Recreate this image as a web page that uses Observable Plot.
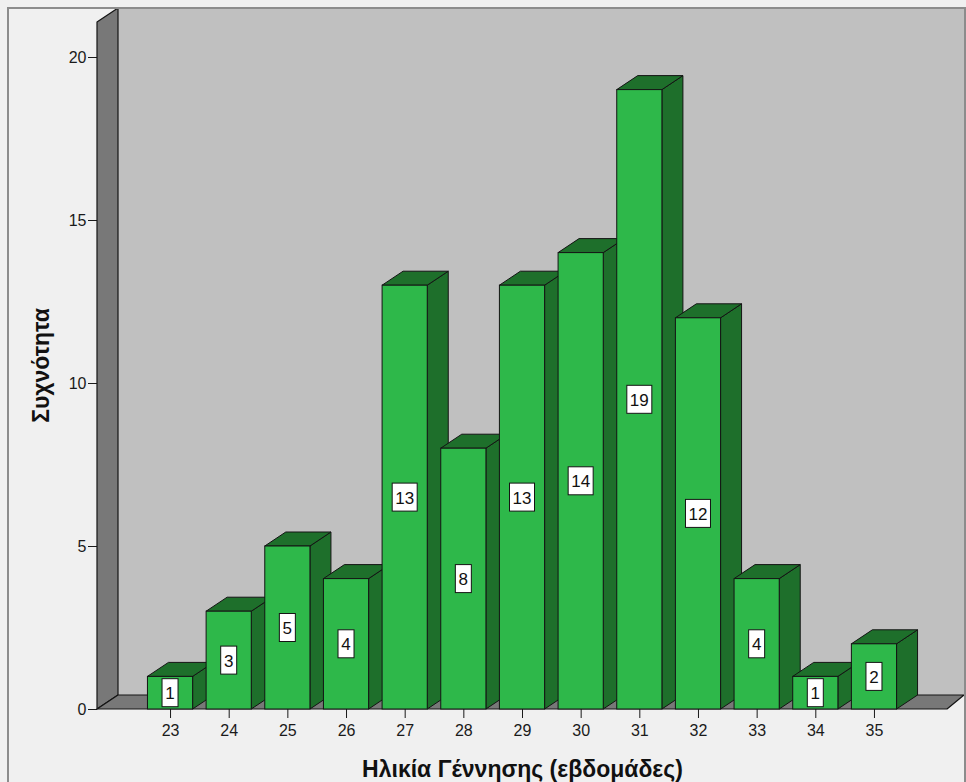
<!DOCTYPE html>
<html><head><meta charset="utf-8">
<script src="https://cdn.jsdelivr.net/npm/d3@7"></script>
<script src="https://cdn.jsdelivr.net/npm/@observablehq/plot@0.6"></script>
<style>html,body{margin:0;padding:0;background:#f0f0f0;overflow:hidden;}</style>
</head><body><div id="chart"></div>
<script>
const weeks = [23, 24, 25, 26, 27, 28, 29, 30, 31, 32, 33, 34, 35];
const counts = [1, 3, 5, 4, 13, 8, 13, 14, 19, 12, 4, 1, 2];
const yTicks = [0, 5, 10, 15, 20];
const xTitle = "Ηλικία Γέννησης (εβδομάδες)";
const yTitle = "Συχνότητα";

const data = weeks.map((w, i) => ({week: w, count: counts[i]}));

const DX = 21, DY = -14, WALL_EXTRA = 35;
const FRONT = "#2eb84a", SIDE = "#1e6f2b", EDGE = "#141414";
const WALL = "#787878", BACK = "#c0c0c0";

const pts = a => a.map(p => p.join(",")).join(" ");

function scene(index, scales, values, dims) {
  const {x, y} = scales;
  const {width, height, marginLeft: ml, marginRight: mr, marginTop: mt, marginBottom: mb} = dims;
  const x0 = ml, x1 = width - mr, y0 = height - mb, yTop = mt - WALL_EXTRA;
  const xr = width - 2;
  const g = d3.create("svg:g");
  g.append("polygon").attr("points", pts([[x0 + DX, yTop + DY], [xr, yTop + DY], [xr, y0 + DY], [x0 + DX, y0 + DY]]))
    .attr("fill", BACK).attr("stroke", "none");
  g.append("polygon").attr("points", pts([[x0, yTop], [x0 + DX, yTop + DY], [x0 + DX, y0 + DY], [x0, y0]]))
    .attr("fill", WALL).attr("stroke", EDGE).attr("stroke-width", 1.2).attr("stroke-linejoin", "round");
  g.append("polygon").attr("points", pts([[x0, y0], [x0 + DX, y0 + DY], [Math.min(x1 + DX, xr), y0 + DY], [x1, y0]]))
    .attr("fill", WALL).attr("stroke", EDGE).attr("stroke-width", 1.2).attr("stroke-linejoin", "round");
  const bw = x.bandwidth();
  for (const d of data) {
    const bx0 = x(d.week), bx1 = bx0 + bw, by = y(d.count);
    g.append("polygon").attr("points", pts([[bx1, y0], [bx1 + DX, y0 + DY], [bx1 + DX, by + DY], [bx1, by]]))
      .attr("fill", SIDE).attr("stroke", EDGE).attr("stroke-width", 1).attr("stroke-linejoin", "round");
    g.append("polygon").attr("points", pts([[bx0, by], [bx0 + DX, by + DY], [bx1 + DX, by + DY], [bx1, by]]))
      .attr("fill", SIDE).attr("stroke", EDGE).attr("stroke-width", 1).attr("stroke-linejoin", "round");
  }
  g.append("rect").attr("x", 8).attr("y", 8).attr("width", width - 9).attr("height", height)
    .attr("fill", "none").attr("stroke", "#8c8c8c").attr("stroke-width", 2);
  return g.node();
}

function labels(index, scales, values, dims) {
  const {x, y} = scales;
  const bw = x.bandwidth();
  const g = d3.create("svg:g");
  for (const d of data) {
    const cx = x(d.week) + bw / 2, cy = y(d.count / 2);
    const s = String(d.count);
    const w = s.length * 9 + 7, h = 28;
    g.append("rect").attr("x", cx - w / 2).attr("y", cy - h / 2).attr("width", w).attr("height", h)
      .attr("fill", "white").attr("stroke", EDGE).attr("stroke-width", 1);
    g.append("text").attr("x", cx).attr("y", cy + 1).attr("text-anchor", "middle").attr("dominant-baseline", "central")
      .attr("font-size", 17).attr("fill", "#111").text(s);
  }
  return g.node();
}

const chart = Plot.plot({
  width: 966,
  height: 782,
  marginLeft: 97,
  marginRight: 19,
  marginTop: 57,
  marginBottom: 73,
  style: {background: "#f0f0f0", fontFamily: "'Liberation Sans', Arial, sans-serif", fontSize: "16px", color: "#1a1a1a"},
  x: {type: "band", domain: weeks, paddingInner: 0.23, paddingOuter: 0.86, round: false, tickSize: 9, tickPadding: 6, label: null},
  y: {domain: [0, 20], ticks: yTicks, tickSize: 9, tickPadding: 2, label: null, tickFormat: d => String(d)},
  marks: [
    scene,
    Plot.barY(data, {x: "week", y: "count", fill: FRONT, stroke: EDGE, strokeWidth: 1, inset: 0}),
    labels,
    Plot.text([xTitle], {text: d => d, frameAnchor: "bottom", lineAnchor: "middle", dy: 60, fontWeight: "bold", fontSize: 23, fill: "#111"}),
    Plot.text([yTitle], {text: d => d, frameAnchor: "left", textAnchor: "middle", dx: -56, dy: -18, rotate: -90, fontWeight: "bold", fontSize: 23, fill: "#111"})
  ]
});
document.getElementById("chart").appendChild(chart);
</script>
</body></html>
